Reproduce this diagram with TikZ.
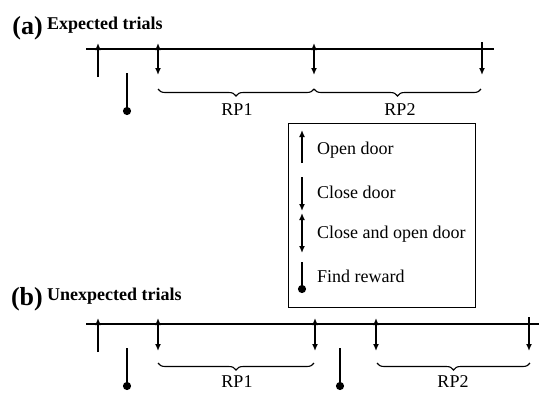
\documentclass[tikz,border=0pt]{standalone}
\usepackage{fontspec}
\setmainfont{Liberation Serif}
\usetikzlibrary{arrows.meta,decorations.pathreplacing}

\begin{document}
\begin{tikzpicture}[x=1pt,y=-1pt,
    axis/.style={line width=2.6pt},
    open/.style={line width=2pt,-{Latex[length=7pt,width=6pt]}},
    shut/.style={line width=2pt,-{Latex[length=7pt,width=6pt]}},
    swap/.style={line width=2pt,{Latex[length=7pt,width=6pt]}-{Latex[length=7pt,width=6pt]}},
    reward/.style={line width=2pt,-{Circle[length=8pt]}},
    period/.style={line width=1.1pt,decorate,decoration={brace,mirror,amplitude=7pt}},
    txt/.style={inner sep=0pt,anchor=base,font=\fontsize{18}{18}\selectfont},
    title/.style={inner sep=0pt,anchor=base west,font=\bfseries\fontsize{18}{18}\selectfont},
    tag/.style={inner sep=0pt,anchor=base east,font=\bfseries\fontsize{26}{26}\selectfont}]
  \useasboundingbox (0,0) rectangle (539,392);

  % (a) expected trials
  \node [tag] (tagA) at (43,34) {(a)};
  \node [title] (titleA) at (47,29) {Expected trials};
  \draw [axis] (86,49) -- (494,49);
  \draw [open] (98,77) -- (98,43);
  \draw [reward] (127,73) -- (127,115);
  \draw [swap] (158,43) -- (158,75);
  \draw [swap] (314,43) -- (314,75);
  \draw [shut] (482,42) -- (482,75);
  \draw [period] (158,89) -- (314,89);
  \draw [period] (314,89) -- (481,89);
  \node [txt] (rp1A) at (237,115) {RP1};
  \node [txt] (rp2A) at (400,115) {RP2};

  % legend
  \node [draw,line width=0.8pt,minimum width=187pt,minimum height=184pt] (legend) at (381.5,215) {};
  \draw [open] (302,163) -- (302,130);
  \node [txt,anchor=base west] (lgOpen) at (317,154) {Open door};
  \draw [shut] (302,177) -- (302,211);
  \node [txt,anchor=base west] (lgShut) at (317,198) {Close door};
  \draw [swap] (302,213) -- (302,253);
  \node [txt,anchor=base west] (lgSwap) at (317,238) {Close and open door};
  \draw [reward] (302,262) -- (302,293);
  \node [txt,anchor=base west] (lgReward) at (317,282) {Find reward};

  % (b) unexpected trials
  \node [tag] (tagB) at (43,305) {(b)};
  \node [title] (titleB) at (47,300) {Unexpected trials};
  \draw [axis] (86,324) -- (539,324);
  \draw [open] (98,352) -- (98,318);
  \draw [reward] (127,348) -- (127,390);
  \draw [swap] (158,318) -- (158,351);
  \draw [swap] (315,318) -- (315,351);
  \draw [reward] (340,348) -- (340,390);
  \draw [swap] (376,318) -- (376,351);
  \draw [shut] (529,317) -- (529,351);
  \draw [period] (158,363) -- (314,363);
  \draw [period] (377,363) -- (530,363);
  \node [txt] (rp1B) at (237,387) {RP1};
  \node [txt] (rp2B) at (453,387) {RP2};
\end{tikzpicture}
\end{document}
